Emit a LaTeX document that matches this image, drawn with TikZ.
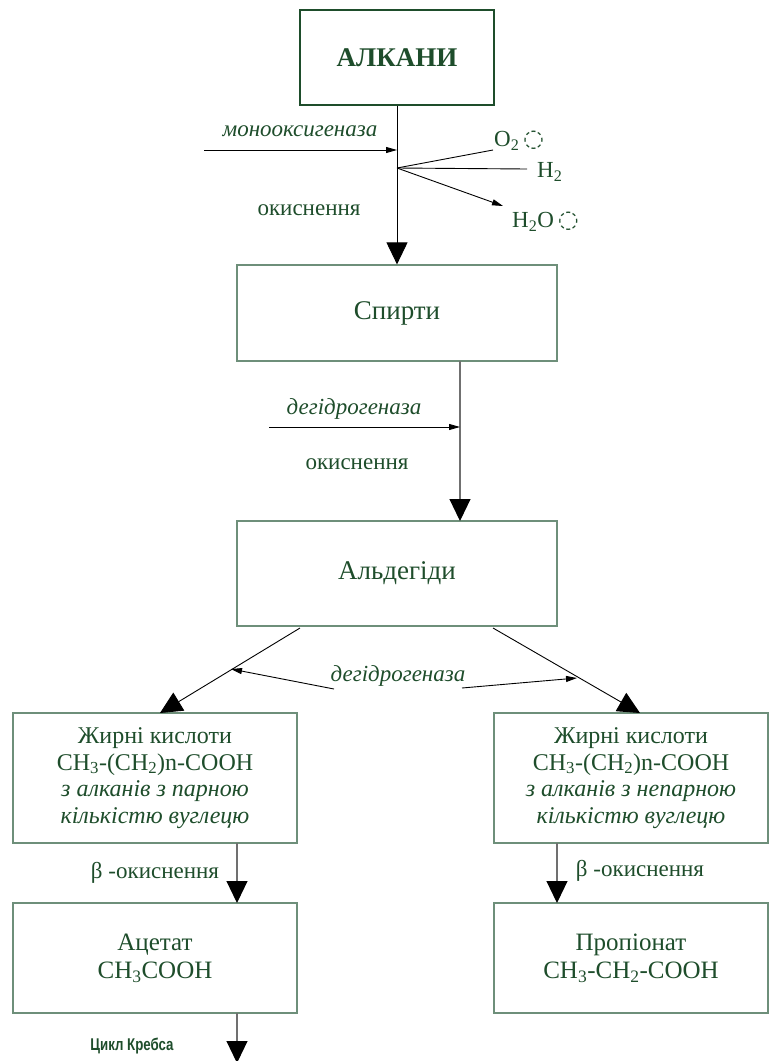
\documentclass[tikz,border=0pt]{standalone}
\usepackage{fontspec}
\setmainfont{Liberation Serif}
\newfontfamily\symfont{DejaVu Sans}
\newfontfamily\krebsfont{Liberation Sans}
\usetikzlibrary{arrows.meta}
\definecolor{txtgreen}{HTML}{1E4D2B}
\definecolor{boxgreen}{HTML}{6E8F7A}
\definecolor{linegray}{HTML}{707070}
\newcommand\dotcirc{{\symfont\fontsize{24}{24}\selectfont ◌}}
\tikzset{
  every node/.style={text=txtgreen},
  box/.style={draw=boxgreen, line width=1.2pt, rectangle, align=center, inner sep=0pt},
  bigbox/.style={box, font=\fontsize{27}{30}\selectfont},
  midbox/.style={box, font=\fontsize{24}{26.7}\selectfont},
  smbox/.style={box, font=\fontsize{25}{28}\selectfont},
  topbox/.style={bigbox, draw=txtgreen},
  lbl/.style={inner sep=0pt, font=\fontsize{23}{26}\selectfont},
  ilbl/.style={inner sep=0pt, font=\fontsize{23}{26}\selectfont\itshape},
  bigtip/.style={-{Triangle[width=21pt,length=22pt,black]}},
  smalltip/.style={-{Triangle[width=6pt,length=11pt]}},
  flow/.style={line width=0.9pt, draw=black},
  grayflow/.style={line width=1.1pt, draw=linegray}
}
\begin{document}
\begin{tikzpicture}[x=1pt,y=-1pt]
\useasboundingbox (0,0) rectangle (770,1061);

% boxes
\node[topbox, minimum width=194pt, minimum height=95pt] (alk) at (397,57.5)
  {\textbf{АЛКАНИ}};
\node[bigbox, minimum width=320pt, minimum height=96pt] (sp) at (397,313) {Спирти};
\node[bigbox, minimum width=320pt, minimum height=105pt] (ald) at (397,573.5) {Альдегіди};
\node[midbox, minimum width=284pt, minimum height=130pt] (fl) at (155,778)
  {Жирні кислоти\\CH\textsubscript{3}-(CH\textsubscript{2})n-COOH\\
   \textit{з алканів з парною}\\\textit{кількістю вуглецю}};
\node[midbox, minimum width=274pt, minimum height=130pt] (fr) at (631,778)
  {Жирні кислоти\\CH\textsubscript{3}-(CH\textsubscript{2})n-COOH\\
   \textit{з алканів з непарною}\\\textit{кількістю вуглецю}};
\node[smbox, minimum width=284pt, minimum height=110pt] (ac) at (155,958)
  {Ацетат\\CH\textsubscript{3}COOH};
\node[smbox, minimum width=274pt, minimum height=110pt] (pr) at (631,958)
  {Пропіонат\\CH\textsubscript{3}-CH\textsubscript{2}-COOH};

% alkanes -> alcohols, with monooxygenase and side products
\coordinate (j1) at (397,168);
\coordinate (m0) at (204,150);
\coordinate (m1) at (397,150);
\coordinate (o2e) at (493,150);
\coordinate (h2e) at (527,169);
\coordinate (h2oe) at (503,206);
\draw[flow, bigtip] (alk.south) -- (sp.north);
\draw[flow, smalltip] (m0) -- (m1);
\draw[flow] (j1) -- (o2e);
\draw[flow] (j1) -- (h2e);
\draw[flow, smalltip] (j1) -- (h2oe);
\node[ilbl] (mono) at (300,131) {монооксигеназа};
\node[lbl] (ox1) at (309,210) {окиснення};
\node[lbl, anchor=west] (o2) at (494,141) {O\textsubscript{2}\,\dotcirc};
\node[lbl, anchor=west] (h2) at (537,172) {H\textsubscript{2}};
\node[lbl, anchor=west] (h2o) at (512,222) {H\textsubscript{2}O\,\dotcirc};

% alcohols -> aldehydes
\coordinate (s1) at (460,361);
\coordinate (s2) at (460,521);
\coordinate (d0) at (269,427);
\coordinate (d1) at (460,427);
\draw[grayflow, bigtip] (s1) -- (s2);
\draw[flow, smalltip] (d0) -- (d1);
\node[ilbl] (deh1) at (354,409) {дегідрогеназа};
\node[lbl] (ox2) at (357,464) {окиснення};

% aldehydes -> fatty acids
\coordinate (a1) at (300,628);
\coordinate (a2) at (160,713);
\coordinate (a3) at (493,628);
\coordinate (a4) at (640,713);
\draw[flow, bigtip] (a1) -- (a2);
\draw[flow, bigtip] (a3) -- (a4);
\node[ilbl] (deh2) at (398,676) {дегідрогеназа};
\coordinate (dl0) at (334,689);
\coordinate (dl1) at (231,669);
\coordinate (dr0) at (462,688);
\coordinate (dr1) at (577,678);
\draw[flow, smalltip] (dl0) -- (dl1);
\draw[flow, smalltip] (dr0) -- (dr1);

% beta-oxidation
\coordinate (bl1) at (237,843);
\coordinate (bl2) at (237,903);
\coordinate (br1) at (557,843);
\coordinate (br2) at (557,903);
\draw[grayflow, bigtip] (bl1) -- (bl2);
\draw[grayflow, bigtip] (br1) -- (br2);
\node[lbl] (bol) at (155,873) {β -окиснення};
\node[lbl] (bor) at (640,871) {β -окиснення};

% acetate -> Krebs cycle
\coordinate (k1) at (237,1013);
\coordinate (k2) at (237,1063);
\draw[grayflow, bigtip] (k1) -- (k2);
\node[inner sep=0pt, font=\krebsfont\bfseries\fontsize{17}{20}\selectfont] (krebs) at (132,1046)
  {\scalebox{0.78}[1]{Цикл Кребса}};
\end{tikzpicture}
\end{document}
